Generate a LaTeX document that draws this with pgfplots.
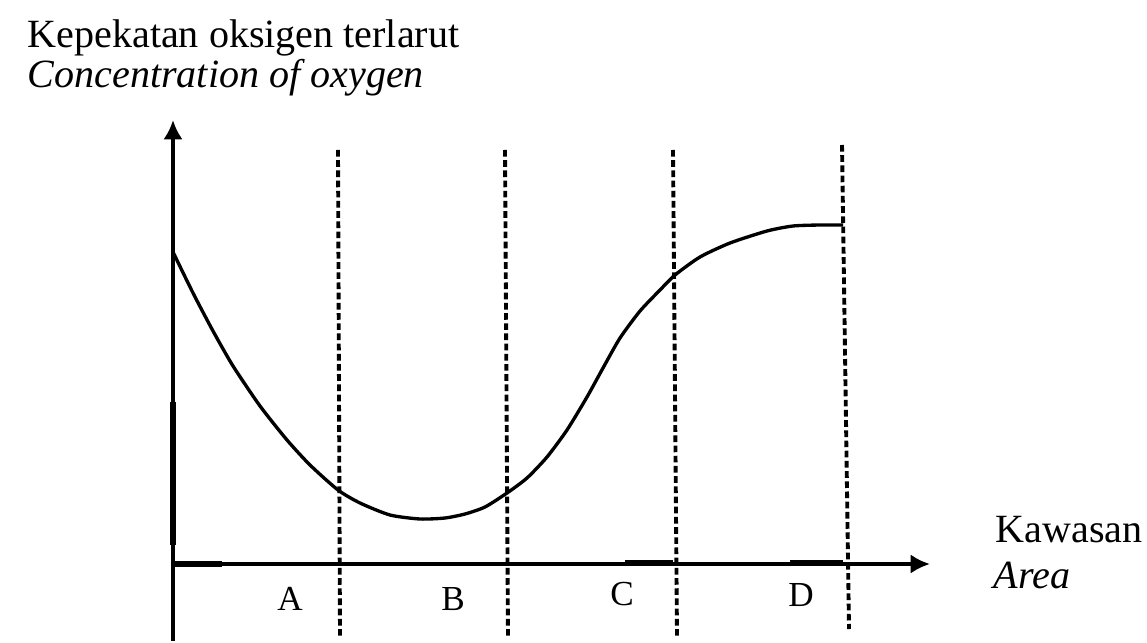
\documentclass[border=0pt]{standalone}
\usepackage{pgfplots}
\pgfplotsset{compat=1.18}
\usetikzlibrary{arrows.meta}
\usepackage{fontspec}
\setmainfont{Liberation Serif}

\pgfplotstableread{
x y
173 389
193 348
213 310
233 275
260 235
287 201
310 176
338 151
360 138
390 126
420 122
445 123
465 127
485 134
507 148
527 163
547 184
567 211
587 244
603 273
620 303
640 330
660 351
675 366
700 384
730 398
767 410
793 415
820 416
843 416
}\oxygen

\tikzset{
  big/.style={font=\fontsize{11.4}{13}\selectfont, inner sep=0pt},
  small/.style={font=\fontsize{10}{12}\selectfont, inner sep=0pt},
  divider/.style={black, line width=1.1pt, dash pattern=on 1.9pt off 1.0pt},
  axisline/.style={black, line width=1.1pt, -{Latex[length=5.5pt,width=5.5pt]}},
}

\begin{document}
\begin{tikzpicture}
\begin{axis}[
  width=11.47cm, height=6.41cm, scale only axis,
  xmin=0, xmax=1147, ymin=0, ymax=641,
  hide axis, clip=false,
  ]
  % keeps the page the size of the whole frame
  \addplot[draw=none] coordinates {(0,0) (1147,641)};
  % axes
  \addplot[axisline] coordinates {(173,0) (173,521)};
  \addplot[axisline] coordinates {(173,77) (930,77)};
  % heavier bits of the scanned axes
  \addplot[black, line width=1.7pt] coordinates {(173,96) (173,239)};
  \addplot[black, line width=1.6pt] coordinates {(173,77) (222,77)};
  \addplot[black, line width=1.5pt] coordinates {(625,78) (673,78)};
  \addplot[black, line width=1.5pt] coordinates {(790,78) (843,78)};
  % dashed dividers
  \addplot[divider] coordinates {(338,491) (340,2)};
  \addplot[divider] coordinates {(505,491) (508,2)};
  \addplot[divider] coordinates {(673,491) (677,4)};
  \addplot[divider] coordinates {(842,496) (849,12)};
  % oxygen curve
  \addplot[black, line width=0.95pt, smooth, tension=0.4] table {\oxygen};
  % labels
  \node[big, anchor=base west] at (axis cs:27,593) {Kepekatan oksigen terlarut};
  \node[big, anchor=base west] at (axis cs:27,553) {\itshape Concentration of oxygen};
  \node[big, anchor=base west] at (axis cs:995,99) {Kawasan};
  \node[big, anchor=base west] at (axis cs:993,53) {\itshape Area};
  \node[small, anchor=base] at (axis cs:290,31) {A};
  \node[small, anchor=base] at (axis cs:453,31) {B};
  \node[small, anchor=base] at (axis cs:622,36) {C};
  \node[small, anchor=base] at (axis cs:801,35) {D};
\end{axis}
\end{tikzpicture}
\end{document}
